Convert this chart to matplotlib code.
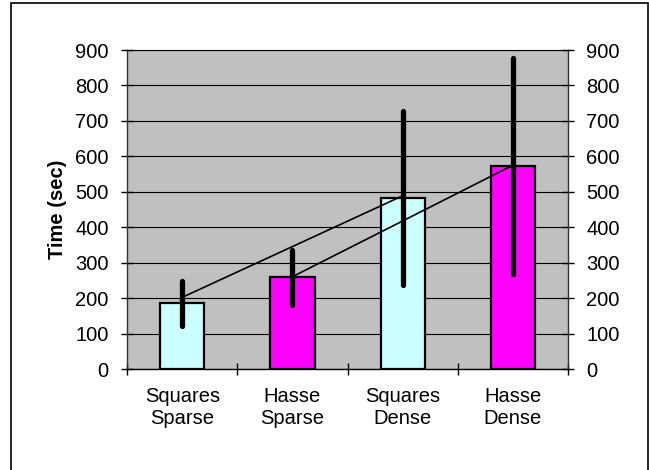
import matplotlib.pyplot as plt
from matplotlib.patches import Rectangle

CATEGORIES = ['Squares\nSparse', 'Hasse\nSparse', 'Squares\nDense', 'Hasse\nDense']
TIMES = [187, 260, 483, 573]
ERR_LOW = [123, 182, 237, 268]
ERR_HIGH = [250, 337, 727, 877]
BAR_COLORS = ['#CCFFFF', '#FF00FF', '#CCFFFF', '#FF00FF']

# trend lines: squares (sparse -> dense) and hasse (sparse -> dense)
SQUARES_IDX = [0, 2]
SQUARES_LINE = [203, 489]
HASSE_IDX = [1, 3]
HASSE_LINE = [261, 575]

YTICKS = [0, 100, 200, 300, 400, 500, 600, 700, 800, 900]

plt.rcParams['font.family'] = ['Liberation Sans', 'DejaVu Sans']

fig = plt.figure(figsize=(6.49, 4.70), dpi=100)
ax = fig.add_axes([0.1962, 0.2143, 0.6786, 0.6793])
ax.set_facecolor('#C0C0C0')

x = list(range(len(CATEGORIES)))
ax.bar(x, TIMES, width=0.4, color=BAR_COLORS, edgecolor='black', linewidth=1.6, zorder=3)

for i in x:
    ax.plot([i, i], [ERR_LOW[i], ERR_HIGH[i]], color='black', lw=3.8,
            solid_capstyle='round', zorder=4)

ax.plot(SQUARES_IDX, SQUARES_LINE, color='black', lw=1.2, zorder=5)
ax.plot(HASSE_IDX, HASSE_LINE, color='black', lw=1.2, zorder=5)

ax.set_xlim(-0.5, 3.5)
ax.set_ylim(0, 900)
ax.set_yticks(YTICKS)
ax.yaxis.grid(True, color='black', lw=0.8, zorder=0)
ax.set_axisbelow(True)

ax.set_xticks([-0.5, 0.5, 1.5, 2.5, 3.5])
ax.set_xticklabels([])
ax.set_xticks(x, minor=True)
ax.set_xticklabels(CATEGORIES, minor=True, fontsize=14.5, linespacing=1.2)
ax.tick_params(axis='x', which='major', direction='inout', length=9, width=1)
ax.tick_params(axis='x', which='minor', length=0, pad=13)
ax.tick_params(axis='y', direction='inout', length=9, width=1, labelsize=14.5,
               pad=9, right=True, labelright=True)

for side in ['left', 'right', 'bottom']:
    ax.spines[side].set_color('#333333')
    ax.spines[side].set_linewidth(1)
ax.spines['bottom'].set_color('black')
ax.spines['top'].set_color('black')
ax.spines['top'].set_linewidth(0.8)

ax.set_ylabel('Time (sec)', fontsize=14.5, fontweight='bold', labelpad=6)

# outer chart frame (bottom edge falls outside the image)
fig.patches.append(Rectangle((11 / 649, -10 / 470), 636.5 / 649, 477 / 470,
                             transform=fig.transFigure, fill=False,
                             edgecolor='black', lw=1.2))

fig.savefig('out.png', dpi=100)
